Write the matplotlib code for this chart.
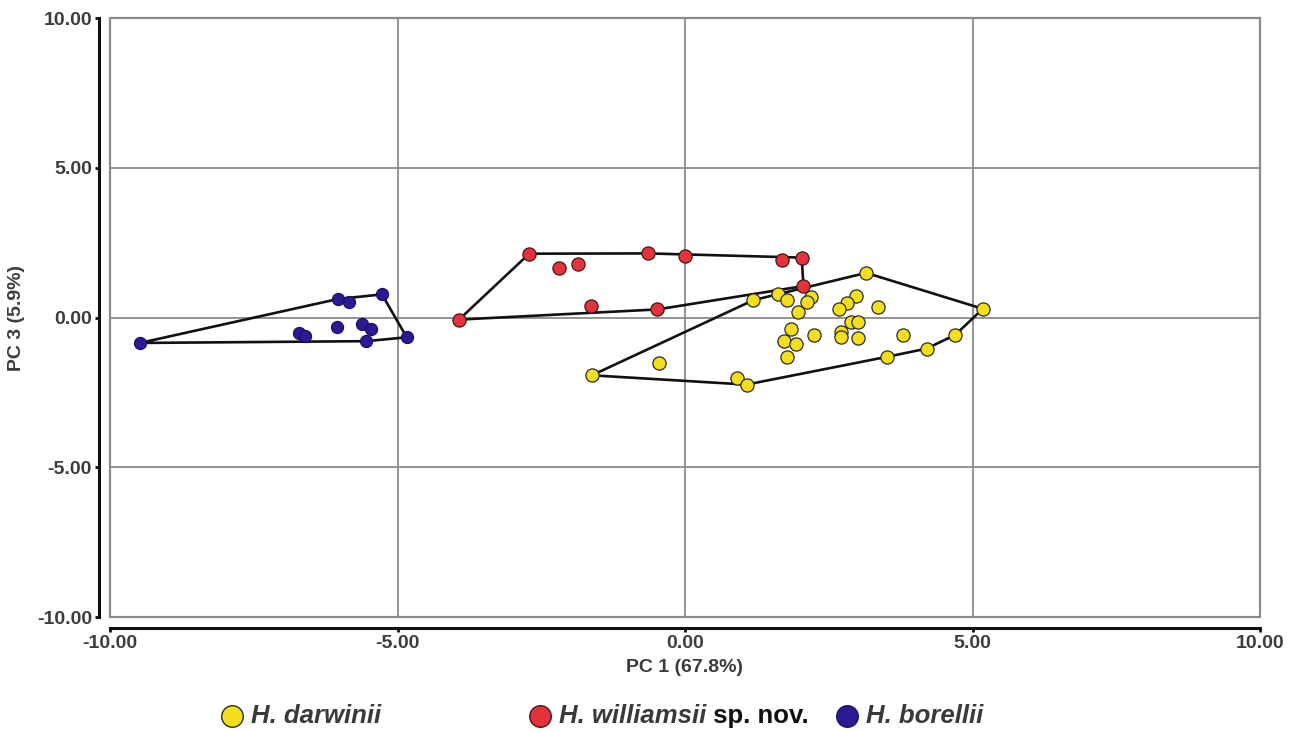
import numpy as np
import matplotlib.pyplot as plt
from matplotlib.patches import Rectangle
from matplotlib.lines import Line2D

plt.rcParams['font.family'] = ['Liberation Sans', 'DejaVu Sans']

# PCA scores (PC1, PC3)
darwinii_pc1 = [-1.62, -0.45, 0.90, 1.07, 1.19, 1.61, 1.77, 2.19, 2.12, 1.97,
                3.15, 2.97, 2.81, 2.68, 3.35, 5.18, 2.89, 3.01, 1.84, 2.25,
                2.71, 2.71, 3.01, 3.79, 1.72, 1.93, 1.77, 3.52, 4.20, 4.70]
darwinii_pc3 = [-1.93, -1.51, -2.01, -2.24, 0.58, 0.77, 0.57, 0.69, 0.52, 0.18,
                1.49, 0.71, 0.47, 0.29, 0.34, 0.29, -0.16, -0.16, -0.40, -0.58,
                -0.49, -0.66, -0.68, -0.59, -0.78, -0.89, -1.31, -1.31, -1.04, -0.58]

williamsii_pc1 = [-3.93, -2.71, -2.20, -1.86, -1.64, -0.64, 0.00, -0.48, 1.69, 2.03, 2.06]
williamsii_pc3 = [-0.07, 2.13, 1.66, 1.77, 0.38, 2.14, 2.06, 0.27, 1.91, 2.00, 1.05]

borellii_pc1 = [-9.48, -6.03, -5.84, -5.27, -4.84, -5.54, -6.71, -6.61, -6.06, -5.62, -5.46]
borellii_pc3 = [-0.85, 0.62, 0.52, 0.77, -0.66, -0.79, -0.51, -0.62, -0.31, -0.21, -0.40]

ticks = [-10, -5, 0, 5, 10]
tick_labels = ['-10.00', '-5.00', '0.00', '5.00', '10.00']


def convex_hull(xs, ys):
    pts = sorted(set(zip(xs, ys)))

    def cross(o, a, b):
        return (a[0] - o[0]) * (b[1] - o[1]) - (a[1] - o[1]) * (b[0] - o[0])

    lower, upper = [], []
    for p in pts:
        while len(lower) >= 2 and cross(lower[-2], lower[-1], p) <= 0:
            lower.pop()
        lower.append(p)
    for p in reversed(pts):
        while len(upper) >= 2 and cross(upper[-2], upper[-1], p) <= 0:
            upper.pop()
        upper.append(p)
    hull = lower[:-1] + upper[:-1]
    hull.append(hull[0])
    return np.array(hull)


groups = [
    (darwinii_pc1, darwinii_pc3, '#f5df1c', '#2a2a2a', 90),
    (williamsii_pc1, williamsii_pc3, '#e8323b', '#3a1a1a', 90),
    (borellii_pc1, borellii_pc3, '#2a1a96', '#1a1060', 75),
]

fig = plt.figure(figsize=(13, 7.31), dpi=100)
ax = fig.add_axes([110 / 1300, 1 - 617 / 731, 1150 / 1300, 599 / 731])

for xs, ys, face, edge, size in groups:
    hull = convex_hull(xs, ys)
    ax.plot(hull[:, 0], hull[:, 1], color='#111111', lw=1.9, zorder=3)
    ax.scatter(xs, ys, s=size, c=face, edgecolors=edge, linewidths=0.9, zorder=4)

ax.set_xlim(-10, 10)
ax.set_ylim(-10, 10)
ax.set_xticks(ticks)
ax.set_yticks(ticks)
ax.set_xticklabels(tick_labels)
ax.set_yticklabels(tick_labels)
ax.grid(True, color='#8a8a8a', lw=1.3, zorder=0)
ax.set_axisbelow(True)

for side in ['top', 'right']:
    ax.spines[side].set_visible(False)
for side in ['left', 'bottom']:
    ax.spines[side].set_position(('outward', 8))
    ax.spines[side].set_linewidth(2.2)
    ax.spines[side].set_color('#111111')
ax.add_patch(Rectangle((0, 0), 1, 1, transform=ax.transAxes, fill=False,
                       edgecolor='#8a8a8a', lw=1.6, clip_on=False, zorder=1))

ax.tick_params(axis='both', direction='out', length=3, width=2, color='#111111',
               labelsize=14, labelcolor='#3c3c3c', pad=2)
for lab in ax.get_xticklabels() + ax.get_yticklabels():
    lab.set_fontweight('bold')

fig.text(685 / 1300, 1 - 668 / 731, 'PC 1 (67.8%)', ha='center', va='center',
         fontsize=14, fontweight='bold', color='#3c3c3c')
fig.text(17 / 1300, 1 - 318 / 731, 'PC 3 (5.9%)', ha='center', va='center',
         rotation=90, fontsize=14, fontweight='bold', color='#3c3c3c')

# legend drawn by hand so that "sp. nov." can stay upright
leg_y = 1 - 716 / 731
leg_items = [(232, 251, 'H. darwinii', '', '#f5df1c', '#2a2a2a'),
             (540, 559, 'H. williamsii', ' sp. nov.', '#e8323b', '#3a1a1a'),
             (847, 866, 'H. borellii', '', '#2a1a96', '#1a1060')]
for mx, tx, name, suffix, face, edge in leg_items:
    fig.add_artist(Line2D([mx / 1300], [leg_y], marker='o', markersize=15.5,
                          markerfacecolor=face, markeredgecolor=edge,
                          markeredgewidth=1.0, transform=fig.transFigure))
    t = fig.text(tx / 1300, leg_y, name, ha='left', va='center', fontsize=18.5,
                 fontweight='bold', fontstyle='italic', color='#3a3a3a')
    if suffix:
        ax.annotate(suffix, xy=(1, 0.5), xycoords=t, ha='left', va='center',
                    fontsize=18.5, fontweight='bold', color='#111111',
                    annotation_clip=False)

fig.savefig('out.png', dpi=100)
